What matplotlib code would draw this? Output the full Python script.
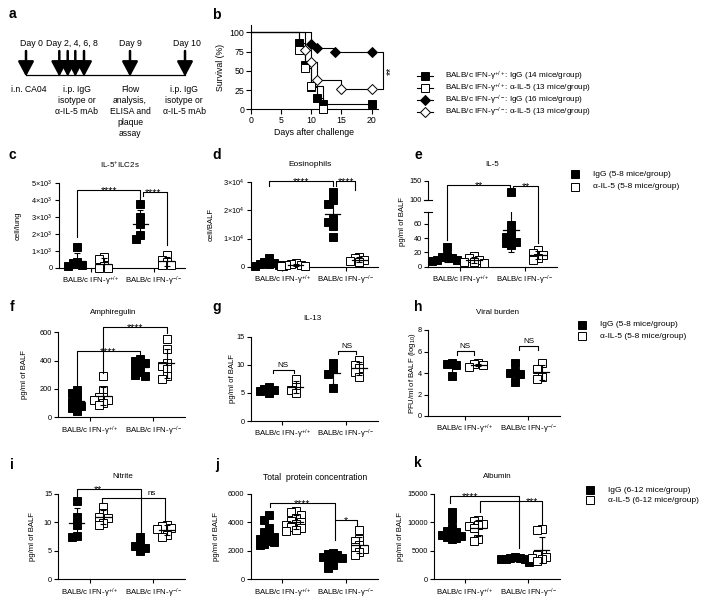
import numpy as np
import matplotlib
matplotlib.use('Agg')
import matplotlib.pyplot as plt
from matplotlib.lines import Line2D

plt.rcParams['font.family'] = ['Liberation Sans', 'DejaVu Sans']
plt.rcParams['mathtext.fontset'] = 'custom'
plt.rcParams['mathtext.rm'] = 'Liberation Sans'
plt.rcParams['mathtext.it'] = 'Liberation Sans:italic'
plt.rcParams['mathtext.bf'] = 'Liberation Sans:bold'
plt.rcParams['axes.linewidth'] = 0.8

W, H, DPI = 713, 605, 100

# ------------------------------------------------------------------ data
# panel a (schedule)
timeline_days = [0, 2, 4, 6, 8, 9, 10]
top_labels = ["Day 0", "Day 2, 4, 6, 8", "Day 9", "Day 10"]
bottom_labels = ["i.n. CA04", "i.p. IgG\nisotype or\nα-IL-5 mAb",
                 "Flow\nanalysis,\nELISA and\nplaque\nassay",
                 "i.p. IgG\nisotype or\nα-IL-5 mAb"]

# panel b (survival, %)
b_wt_igg_days = [0, 8, 9, 10, 11, 12, 20]
b_wt_igg_surv = [100, 85.7, 57.1, 28.6, 14.3, 7.1, 7.1]
b_wt_ail5_days = [0, 8, 9, 10, 12]
b_wt_ail5_surv = [100, 76.9, 53.8, 30.8, 0]
b_ko_igg_days = [0, 10, 11, 14, 20]
b_ko_igg_surv = [100, 84.6, 80.0, 75.0, 75.0]
b_ko_ail5_days = [0, 9, 10, 11, 15, 20]
b_ko_ail5_surv = [100, 76.9, 61.5, 38.5, 26.0, 26.0]
b_labels = ["BALB/c IFN-γ$^{+/+}$: IgG (14 mice/group)",
            "BALB/c IFN-γ$^{+/+}$: α-IL-5 (13 mice/group)",
            "BALB/c IFN-γ$^{-/-}$: IgG (16 mice/group)",
            "BALB/c IFN-γ$^{-/-}$: α-IL-5 (13 mice/group)"]

categories = ["BALB/c IFN-γ$^{+/+}$", "BALB/c IFN-γ$^{-/-}$"]

# c: IL-5+ ILC2s (cell/lung)
c_wt_igg = [1240, 350, 300, 150, 100]
c_wt_ail5 = [630, 550, 100, 20, 0]
c_ko_igg = [3800, 3000, 2600, 1930, 1700]
c_ko_ail5 = [780, 500, 350, 200, 150]
# d: eosinophils (cell/BALF)
d_wt_igg = [3000, 1800, 1200, 1000, 800, 600, 400, 300]
d_wt_ail5 = [1200, 900, 700, 500, 300, 200]
d_ko_igg = [26500, 23600, 22300, 17000, 15800, 14300, 10700]
d_ko_ail5 = [3500, 3000, 2500, 2000, 1500]
# e: IL-5 (pg/ml)
e_wt_igg = [28, 15, 13, 12, 10, 9, 8]
e_wt_ail5 = [15, 12, 9, 7, 5, 6]
e_ko_igg = [121, 58, 47, 42, 38, 35, 33, 30]
e_ko_ail5 = [23, 19, 16, 12, 9]
# f: amphiregulin
f_wt_igg = [190, 175, 135, 110, 95, 80, 65, 45]
f_wt_ail5 = [290, 195, 145, 140, 125, 120, 100, 85]
f_ko_igg = [410, 400, 385, 370, 340, 320, 300, 290]
f_ko_ail5 = [550, 480, 380, 360, 340, 290, 270]
# g: IL-13
g_wt_igg = [6.0, 5.7, 5.5, 5.3, 5.0]
g_wt_ail5 = [7.4, 6.1, 5.5, 4.9]
g_ko_igg = [10.3, 9.3, 8.4, 5.9]
g_ko_ail5 = [10.9, 10.0, 9.4, 8.8, 7.8]
# h: viral burden (log10 PFU/ml)
h_wt_igg = [4.9, 4.8, 4.7, 3.7]
h_wt_ail5 = [4.9, 4.8, 4.7, 4.6]
h_ko_igg = [4.9, 4.1, 4.0, 3.9, 3.2]
h_ko_ail5 = [4.9, 4.4, 3.6, 3.4]
# i: nitrite
i_wt_igg = [13.7, 11.0, 9.6, 7.6, 7.5]
i_wt_ail5 = [12.8, 11.6, 11.0, 10.8, 9.9, 9.6]
i_ko_igg = [7.4, 6.0, 5.9, 5.5, 4.9]
i_ko_ail5 = [9.6, 9.3, 9.0, 8.8, 7.8, 7.5]
# j: total protein
j_wt_igg = [4500, 4200, 3600, 3300, 3100, 3000, 2900, 2800, 2700, 2600, 2500, 2400]
j_wt_ail5 = [4800, 4750, 4500, 4300, 4100, 4000, 3900, 3800, 3700, 3600, 3500, 3400]
j_ko_igg = [1850, 1800, 1700, 1600, 1500, 1400, 1200, 1000, 800]
j_ko_ail5 = [3500, 2800, 2700, 2400, 2300, 2100, 1900, 1700]
# k: albumin
k_wt_igg = [11800, 10600, 9000, 8500, 8300, 8000, 7800, 7600, 7400, 7200, 7000]
k_wt_ail5 = [10500, 10200, 9800, 9500, 9300, 9000, 7100, 6700]
k_ko_igg = [3900, 3800, 3700, 3600, 3500, 3500, 3400, 3300, 3200, 3100]
k_ko_ail5 = [8800, 8600, 4500, 4300, 4000, 3700, 3500, 3300]

legend_58 = ["IgG (5-8 mice/group)", "α-IL-5 (5-8 mice/group)"]
legend_612 = ["IgG (6-12 mice/group)", "α-IL-5 (6-12 mice/group)"]

# ------------------------------------------------------------------ helpers
fig = plt.figure(figsize=(W / DPI, H / DPI), dpi=DPI, facecolor='white')
ov = fig.add_axes([0, 0, 1, 1], zorder=-1)
ov.set_xlim(0, W); ov.set_ylim(H, 0); ov.axis('off')

MS = 5.2


def add_ax(l, t, r, b):
    ax = fig.add_axes([l / W, 1 - b / H, (r - l) / W, (b - t) / H])
    ax.patch.set_alpha(0)
    ax.spines[['top', 'right']].set_visible(False)
    ax.tick_params(width=0.8, length=3, labelsize=5.3, pad=1.5)
    return ax


def F(ax, x, y):
    d = ax.transData.transform((x, y))
    return fig.transFigure.inverted().transform(d)


def ftext(x, y, s, **kw):
    fig.text(x / W, 1 - y / H, s, **kw)


def ppu_of(ax):
    bb = ax.get_position()
    lo, hi = ax.get_ylim()
    return bb.height * H / (hi - lo)


def swarm(vals, xc, ppu, dx=0.075, thr=5.5):
    order = np.argsort(vals)[::-1]
    placed, xs = [], np.zeros(len(vals))
    for i in order:
        y = vals[i] * ppu
        for c in [0, -1, 1, -2, 2, -3, 3]:
            x = xc + c * dx
            if all(abs(x - px) > dx * 0.9 or abs(y - py) > thr for px, py in placed):
                break
        xs[i] = x
        placed.append((x, y))
    return xs


OFF = 0.21


def dotplot(axs, groups, ppu):
    # groups: wt IgG, wt anti-IL-5, ko IgG, ko anti-IL-5
    centers = [1 - OFF, 1 + OFF, 2 - OFF, 2 + OFF]
    filled = [True, False, True, False]
    for vals, xc, fl in zip(groups, centers, filled):
        vals = np.asarray(vals, float)
        xs = swarm(vals, xc, ppu)
        for ax in axs:
            lo, hi = ax.get_ylim()
            m = ((vals >= lo) & (vals <= hi)) if len(axs) > 1 else np.ones(len(vals), bool)
            ax.plot(xs[m], vals[m], ls='none', marker='s', ms=MS,
                    mfc='k' if fl else 'w', mec='k', mew=0.7, clip_on=False, zorder=3)
        mean, sd = vals.mean(), vals.std(ddof=1)
        for ax in axs:
            ax.plot([xc - 0.12, xc + 0.12], [mean, mean], color='k', lw=0.9, zorder=4,
                    clip_on=len(axs) > 1)
            ax.errorbar(xc, mean, yerr=sd, fmt='none', ecolor='k', elinewidth=0.8,
                        capsize=2.4, capthick=0.8, zorder=4)


def xcat(ax, xlim=(0.5, 2.5)):
    ax.set_xlim(*xlim)
    ax.set_xticks([1, 2])
    ax.set_xticklabels(categories, fontsize=5.6)
    ax.tick_params(axis='x', pad=2)


def bracket(ax, x1, x2, ytop, y1, y2, label, tx=None, ax1=None, ax2=None):
    ax1 = ax1 or ax
    ax2 = ax2 or ax
    pts = [F(ax1, x1, y1), F(ax, x1, ytop), F(ax, x2, ytop), F(ax2, x2, y2)]
    fig.add_artist(Line2D([p[0] for p in pts], [p[1] for p in pts],
                          transform=fig.transFigure, color='k', lw=0.8))
    tx = (x1 + x2) / 2 if tx is None else tx
    fx, fy = F(ax, tx, ytop)
    if label.startswith('*'):
        fig.text(fx, fy - 4.0 / H, label, ha='center', va='baseline', fontsize=7.5)
    else:
        fig.text(fx, fy + 1.0 / H, label, ha='center', va='bottom', fontsize=5.8)


def ylab(x, ax, s, yc=None):
    bb = ax.get_position()
    if yc is None:
        yc = (1 - (bb.y0 + bb.height / 2)) * H
    ftext(x, yc, s, rotation=90, ha='center', va='center', fontsize=5.6)


def sq_legend(x_m, x_t, ys, labels):
    for y, lab, fl in zip(ys, labels, [True, False]):
        ov.plot([x_m], [y], ls='none', marker='s', ms=5.3, mfc='k' if fl else 'w',
                mec='k', mew=0.7)
        ov.text(x_t, y, lab, ha='left', va='center', fontsize=6)


def sci_labels(ticks, exp):
    return ['0' if t == 0 else f'{int(t / 10 ** exp)}×10$^{exp}$' for t in ticks]


# ------------------------------------------------------------------ panel letters
for s, x, y in [('a', 12, 14), ('b', 216, 15), ('c', 12, 155), ('d', 217, 155),
                ('e', 418, 155), ('f', 12, 307), ('g', 217, 307), ('h', 418, 307),
                ('i', 12, 465), ('j', 217, 465), ('k', 418, 463)]:
    ftext(x, y, s, ha='center', va='center', fontsize=10, fontweight='bold')

# ------------------------------------------------------------------ a
tl_x = [26, 59.3, 67.7, 75.3, 84, 130, 185]   # schematic positions of the days
ov.plot([tl_x[0], tl_x[-1]], [75, 75], color='k', lw=0.9)
for d, x in zip(timeline_days, tl_x):
    ov.annotate('', xy=(x, 76.5), xytext=(x, 51),
                arrowprops=dict(arrowstyle='-|>,head_width=0.4,head_length=0.75',
                                lw=1.8, color='k', shrinkA=0, shrinkB=0, mutation_scale=12))
for s, x in zip(top_labels, [31.7, 71.7, 130, 186.7]):
    ov.text(x, 44, s, ha='center', va='center', fontsize=6.3)
for s, x in zip(bottom_labels, [29.3, 76.7, 130, 184.3]):
    ov.text(x, 85.5, s, ha='center', va='top', fontsize=6.2, linespacing=1.25)

# ------------------------------------------------------------------ b
axb = add_ax(251, 25, 378, 109.3)
axb.set_xlim(0, 21.05); axb.set_ylim(0, 109.5)
axb.set_xticks([0, 5, 10, 15, 20]); axb.set_yticks([0, 25, 50, 75, 100])
axb.tick_params(labelsize=6.3, length=3.5)
series_b = [(b_wt_igg_days, b_wt_igg_surv, 's', 'k', 5.3),
            (b_wt_ail5_days, b_wt_ail5_surv, 's', 'w', 5.3),
            (b_ko_igg_days, b_ko_igg_surv, 'D', 'k', 4.6),
            (b_ko_ail5_days, b_ko_ail5_surv, 'D', 'w', 4.6)]
for dd, ss, mk, fc, ms in series_b:
    axb.step(dd, ss, where='post', color='k', lw=0.8, clip_on=False)
    axb.plot(dd[1:], ss[1:], ls='none', marker=mk, ms=ms, mfc=fc, mec='k', mew=0.7,
             clip_on=False, zorder=3)
axb.set_xlabel('Days after challenge', fontsize=6.3, labelpad=2)
axb.set_ylabel('Survival (%)', fontsize=6.3, labelpad=3)
p1 = F(axb, 21.05, b_ko_igg_surv[-1]); p2 = F(axb, 21.85, b_ko_igg_surv[-1])
p3 = F(axb, 21.85, b_ko_ail5_surv[-1]); p4 = F(axb, 21.05, b_ko_ail5_surv[-1])
fig.add_artist(Line2D([p1[0], p2[0], p3[0], p4[0]], [p1[1], p2[1], p3[1], p4[1]],
                      transform=fig.transFigure, color='k', lw=0.8))
pm = F(axb, 21.85, (b_ko_igg_surv[-1] + b_ko_ail5_surv[-1]) / 2)
fig.text(pm[0] + 8.5 / W, pm[1], '**', rotation=90, ha='center', va='center', fontsize=7.5)
for k, (y, lab) in enumerate(zip([76, 88, 100, 112], b_labels)):
    _, _, mk, fc, ms = series_b[k]
    ov.plot([416.7, 433.3], [y, y], color='k', lw=0.8)
    ov.plot([425], [y], ls='none', marker=mk, ms=ms, mfc=fc, mec='k', mew=0.7)
    ov.text(445, y, lab, ha='left', va='center', fontsize=5.9)

# ------------------------------------------------------------------ c
axc = add_ax(59, 183.3, 185, 268)
axc.set_ylim(0, 5000)
ct = [0, 1000, 2000, 3000, 4000, 5000]
axc.set_yticks(ct); axc.set_yticklabels(sci_labels(ct, 3))
xcat(axc)
dotplot([axc], [c_wt_igg, c_wt_ail5, c_ko_igg, c_ko_ail5], ppu_of(axc))
bracket(axc, 1 - OFF, 2 - OFF, 4620, 1850, 4000, '****')
bracket(axc, 1.83, 2 + OFF, 4500, 4260, 1360, '****', tx=2.0)
ftext(120, 165, 'IL-5$^{+}$ILC2s', ha='center', va='center', fontsize=5.8)
ylab(18, axc, 'cell/lung')

# ------------------------------------------------------------------ d
axd = add_ax(250.7, 182.3, 377.7, 266.7)
axd.set_ylim(0, 30000)
dt = [0, 10000, 20000, 30000]
axd.set_yticks(dt); axd.set_yticklabels(sci_labels(dt, 4))
xcat(axd)
dotplot([axd], [d_wt_igg, d_wt_ail5, d_ko_igg, d_ko_ail5], ppu_of(axd))
bracket(axd, 1 - OFF, 2 - OFF, 30500, 28600, 28600, '****')
bracket(axd, 1.85, 2.15, 30500, 28600, 27400, '****')
ftext(310, 164, 'Eosinophils', ha='center', va='center', fontsize=6)
ylab(211, axd, 'cell/BALF')

# ------------------------------------------------------------------ e (broken axis)
axe = add_ax(428.3, 211.7, 556.7, 266.7)
axe.set_ylim(0, 76.7); axe.set_yticks([0, 20, 40, 60])
xcat(axe)
axe2 = add_ax(428.3, 180.7, 556.7, 200)
axe2.set_ylim(100, 150); axe2.set_yticks([100, 150]); axe2.set_xlim(0.5, 2.5)
axe2.spines['bottom'].set_visible(False)
axe2.tick_params(axis='x', bottom=False, labelbottom=False)
dotplot([axe, axe2], [e_wt_igg, e_wt_ail5, e_ko_igg, e_ko_ail5], ppu_of(axe))
for yb in [200, 211.7]:
    fig.add_artist(Line2D([(428.3 - 4) / W, (428.3 + 4) / W], [1 - yb / H, 1 - yb / H],
                          transform=fig.transFigure, color='k', lw=0.8))
bracket(axe2, 1 - OFF, 1.78, 138.9, 37, 130.4, '**', ax1=axe)
bracket(axe2, 1.82, 2 + OFF, 137, 133, 32.7, '**', ax2=axe)
ftext(492, 164, 'IL-5', ha='center', va='center', fontsize=5.8)
ftext(403, 222, 'pg/ml of BALF', rotation=90, ha='center', va='center', fontsize=5.6)
sq_legend(575, 593.3, [174, 186.7], legend_58)

# ------------------------------------------------------------------ f
axf = add_ax(58.3, 332.3, 185, 417.3)
axf.set_ylim(0, 600); axf.set_yticks([0, 200, 400, 600])
xcat(axf)
dotplot([axf], [f_wt_igg, f_wt_ail5, f_ko_igg, f_ko_ail5], ppu_of(axf))
bracket(axf, 1 - OFF, 2 - OFF, 470, 216, 440, '****')
bracket(axf, 1 + OFF, 2 + OFF, 635, 310, 598, '****')
ftext(113, 313, 'Amphiregulin', ha='center', va='center', fontsize=5.8)
ylab(25, axf, 'pg/ml of BALF')

# ------------------------------------------------------------------ g
axg = add_ax(250.7, 336.7, 377.7, 421)
axg.set_ylim(0, 15); axg.set_yticks([0, 5, 10, 15])
xcat(axg)
dotplot([axg], [g_wt_igg, g_wt_ail5, g_ko_igg, g_ko_ail5], ppu_of(axg))
bracket(axg, 0.85, 1.18, 9.1, 8.6, 8.6, 'NS')
bracket(axg, 1.87, 2.16, 12.5, 11.9, 11.9, 'NS')
ftext(312, 318, 'IL-13', ha='center', va='center', fontsize=5.8)
ylab(233, axg, 'pg/ml of BALF')

# ------------------------------------------------------------------ h
axh = add_ax(428.3, 330, 560, 416)
axh.set_ylim(0, 8); axh.set_yticks([0, 2, 4, 6, 8])
xcat(axh, (0.42, 2.5))
dotplot([axh], [h_wt_igg, h_wt_ail5, h_ko_igg, h_ko_ail5], ppu_of(axh))
bracket(axh, 0.87, 1.14, 6.07, 5.7, 5.7, 'NS')
bracket(axh, 1.86, 2.16, 6.5, 6.15, 6.15, 'NS')
ftext(497, 313, 'Viral burden', ha='center', va='center', fontsize=5.8)
ylab(412, axh, 'PFU/ml of BALF (log$_{10}$)')
sq_legend(581.7, 600, [325, 336], legend_58)

# ------------------------------------------------------------------ i
axi = add_ax(58.3, 494, 185, 579.3)
axi.set_ylim(0, 15); axi.set_yticks([0, 5, 10, 15])
xcat(axi)
dotplot([axi], [i_wt_igg, i_wt_ail5, i_ko_igg, i_ko_ail5], ppu_of(axi))
bracket(axi, 0.8, 1.8, 15.8, 14.6, 7.8, '**', tx=1.13)
bracket(axi, 1.19, 2.18, 14.3, 13.4, 10.2, 'ns', tx=1.98)
ftext(123, 477, 'Nitrite', ha='center', va='center', fontsize=5.8)
ylab(33, axi, 'pg/ml of BALF')

# ------------------------------------------------------------------ j
axj = add_ax(250.7, 494, 377.7, 579.3)
axj.set_ylim(0, 6000); axj.set_yticks([0, 2000, 4000, 6000])
xcat(axj)
dotplot([axj], [j_wt_igg, j_wt_ail5, j_ko_igg, j_ko_ail5], ppu_of(axj))
bracket(axj, 0.8, 1.82, 5390, 5110, 2770, '****')
bracket(axj, 1.82, 2.18, 4170, 4170, 3820, '*')
ftext(315, 477, 'Total  protein concentration', ha='center', va='center', fontsize=6.2)
ylab(217, axj, 'pg/ml of BALF')

# ------------------------------------------------------------------ k
axk = add_ax(434, 494, 560, 579.3)
axk.set_ylim(0, 15000); axk.set_yticks([0, 5000, 10000, 15000])
xcat(axk, (0.51, 2.5))
dotplot([axk], [k_wt_igg, k_wt_ail5, k_ko_igg, k_ko_ail5], ppu_of(axk))
bracket(axk, 0.77, 1.86, 14600, 13400, 5500, '****', tx=1.08)
bracket(axk, 1.24, 2.21, 13700, 11900, 9600, '***', tx=2.05)
ftext(497, 476, 'Albumin', ha='center', va='center', fontsize=5.8)
ylab(401, axk, 'pg/ml of BALF')
sq_legend(590, 608.3, [490, 500], legend_612)

fig.savefig('out.png', dpi=DPI, facecolor='white')
